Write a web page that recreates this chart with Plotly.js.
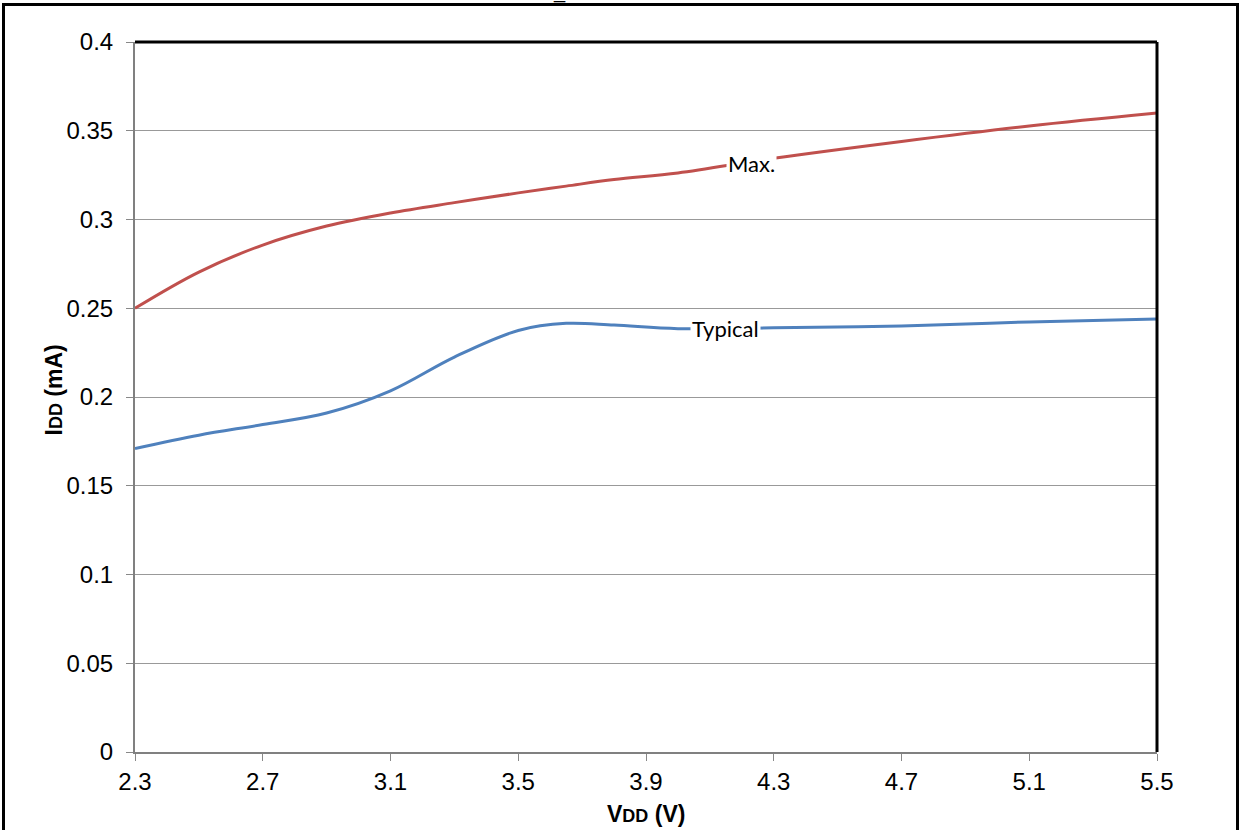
<!DOCTYPE html>
<html>
<head>
<meta charset="utf-8">
<script src="https://cdn.plot.ly/plotly-3.0.1.min.js"></script>
<style>
  html, body { margin: 0; padding: 0; background: #fff; overflow: hidden; }
  #chart { position: absolute; left: 0; top: 0; width: 1244px; height: 830px; }
  #frame { position: absolute; left: 2px; top: 3px; width: 1237px; height: 900px;
           border: 3px solid #000; pointer-events: none; box-sizing: border-box; }
</style>
</head>
<body>
<div id="chart"></div>
<div id="frame"></div>
<script>
const vdd = [2.3, 2.5, 2.7, 2.9, 3.1, 3.3, 3.5, 3.65, 3.8, 4.0, 4.3, 4.7, 5.1, 5.5];
const maxIdd = [0.250, 0.2704, 0.2856, 0.2963, 0.3037, 0.3095, 0.315, 0.3188, 0.3225, 0.3262, 0.3345, 0.344, 0.3527, 0.360];
const typIdd = [0.171, 0.1785, 0.1845, 0.191, 0.2035, 0.2225, 0.2375, 0.2415, 0.2405, 0.2385, 0.239, 0.240, 0.2423, 0.244];
const xTicks = [2.3, 2.7, 3.1, 3.5, 3.9, 4.3, 4.7, 5.1, 5.5];
const yTicks = [0, 0.05, 0.1, 0.15, 0.2, 0.25, 0.3, 0.35, 0.4];
const yTickText = ['0', '0.05', '0.1', '0.15', '0.2', '0.25', '0.3', '0.35', '0.4'];

const traces = [
  { x: vdd, y: maxIdd, mode: 'lines', name: 'Max.',
    line: { color: '#C0504D', width: 3, shape: 'spline', smoothing: 1 } },
  { x: vdd, y: typIdd, mode: 'lines', name: 'Typical',
    line: { color: '#4F81BD', width: 3, shape: 'spline', smoothing: 1 } }
];

const tickFont = { family: 'Arial', size: 24, color: '#000' };
const titleFont = { family: 'Arial', size: 23, color: '#000' };
const labelFont = { family: 'Lato', size: 22, color: '#000' };

const layout = {
  width: 1244, height: 830,
  margin: { l: 135, r: 87, t: 42, b: 78 },
  paper_bgcolor: '#fff', plot_bgcolor: '#fff',
  showlegend: false,
  xaxis: {
    range: [2.3, 5.5], tickvals: xTicks, ticktext: xTicks.map(v => v.toFixed(1)),
    ticks: 'outside', ticklen: 7, tickcolor: '#888', tickwidth: 1,
    showgrid: false, zeroline: false,
    showline: true, linecolor: '#808080', linewidth: 2,
    tickfont: tickFont
  },
  yaxis: {
    range: [0, 0.4], tickvals: yTicks, ticktext: yTickText,
    ticks: 'outside', ticklen: 7, tickcolor: '#888', tickwidth: 1,
    ticklabelstandoff: 8,
    showgrid: true, gridcolor: '#999', gridwidth: 1, zeroline: false,
    showline: true, linecolor: '#808080', linewidth: 2,
    tickfont: tickFont
  },
  shapes: [
    { type: 'line', xref: 'paper', yref: 'paper', x0: 0, x1: 1, y0: 1, y1: 1,
      line: { color: '#000', width: 3 } },
    { type: 'line', xref: 'paper', yref: 'paper', x0: 1, x1: 1, y0: 0, y1: 1,
      line: { color: '#000', width: 3 } }
  ],
  annotations: [
    { x: 0.5, y: -0.088, xref: 'paper', yref: 'paper', yanchor: 'middle', showarrow: false,
      text: '<b>V<span style="font-size:18px">DD</span> (V)</b>', font: titleFont },
    { x: -0.0797, y: 0.51, xref: 'paper', yref: 'paper', xanchor: 'center', yanchor: 'middle',
      textangle: -90, showarrow: false,
      text: '<b>I<span style="font-size:18px">DD</span> (mA)</b>', font: titleFont },
    { x: 4.23, y: 0.3315, xref: 'x', yref: 'y', text: 'Max.', showarrow: false,
      bgcolor: '#fff', borderpad: 1, font: labelFont },
    { x: 4.15, y: 0.2385, xref: 'x', yref: 'y', text: 'Typical', showarrow: false,
      bgcolor: '#fff', borderpad: 1, font: labelFont },
    { x: 0.415, y: 1.052, xref: 'paper', yref: 'paper', text: '_', showarrow: false,
      yanchor: 'bottom',
      font: { family: 'Arial', size: 20, color: '#000' } }
  ]
};

Plotly.newPlot('chart', traces, layout, { displayModeBar: false, staticPlot: true });
</script>
</body>
</html>
